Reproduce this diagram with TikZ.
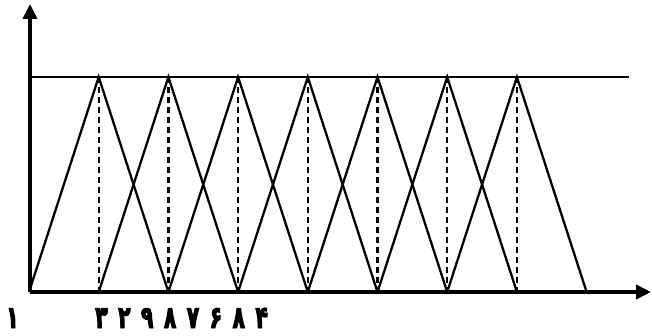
\documentclass[tikz,border=0pt]{standalone}
\usepackage{fontspec}
\newfontfamily\arabicfont[Script=Arabic,FakeBold=3,FakeStretch=0.66]{DejaVu Sans Bold}
\usetikzlibrary{arrows.meta}
\begin{document}
\begin{tikzpicture}[x=1pt,y=-1pt,
  axis/.style={line width=4.4pt,-{Triangle[length=15pt,width=14pt]}},
  leg/.style={line width=2.3pt,line join=miter},
  guide/.style={line width=2.3pt,dash pattern=on 6pt off 4pt},
  topline/.style={line width=2pt},
  lbl/.style={font=\arabicfont\fontsize{31}{31}\selectfont,inner sep=0pt,text depth=0pt,anchor=base west}]
\useasboundingbox (0,0) rectangle (652,336);
\coordinate (O) at (30,292);
\coordinate (ytip) at (30,4);
\coordinate (xtip) at (651,292);
\coordinate (tl) at (30,77);
\coordinate (tr) at (629,77);
\foreach \i in {0,...,8}{
  \coordinate (b\i) at ({29+69.7*\i},292);
  \coordinate (p\i) at ({29+69.7*\i},77);
}
\draw[topline] (tl) -- (tr);
\foreach \i [evaluate=\i as \l using int(\i-1), evaluate=\i as \r using int(\i+1)] in {1,...,7}{
  \draw[leg] (b\l) -- (p\i) -- (b\r);
  \draw[guide] (p\i) -- (b\i);
}
\draw[axis] (O) -- (ytip);
\draw[axis] (O) -- (xtip);
\node[lbl] (one) at (6,328) {۱};
\node[lbl] (digits) at (95,328) {\makebox[22.9pt][l]{۳}\makebox[22.9pt][l]{۲}\makebox[22.9pt][l]{۹}\makebox[22.9pt][l]{۸}\makebox[22.9pt][l]{۷}\makebox[22.9pt][l]{۶}\makebox[22.9pt][l]{۸}۴};
\end{tikzpicture}
\end{document}
